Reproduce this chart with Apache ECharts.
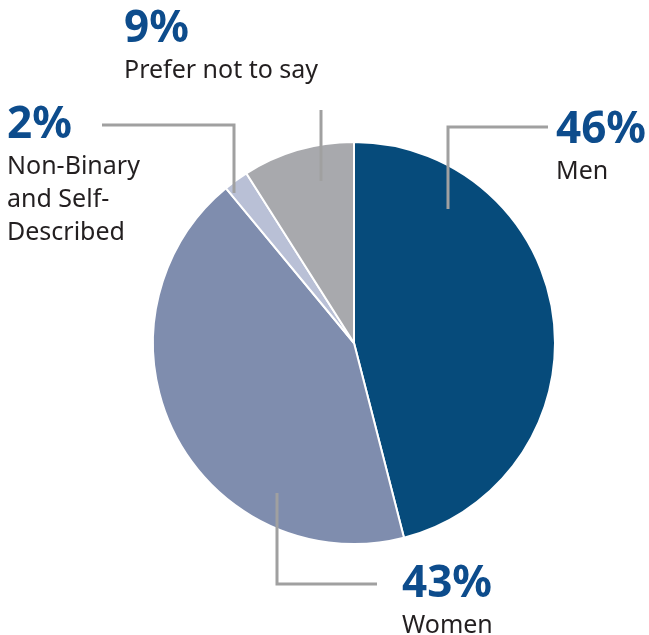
<!DOCTYPE html>
<html>
<head>
<meta charset="utf-8">
<script src="https://cdn.jsdelivr.net/npm/echarts@6/dist/echarts.min.js"></script>
<style>
  html, body { margin: 0; padding: 0; background: #fff; }
  #chart { width: 649px; height: 635px; }
</style>
</head>
<body>
<div id="chart"></div>
<script>
// slices, clockwise from 12 o'clock
const categories = ['Men', 'Women', 'Non-Binary\nand Self-\nDescribed', 'Prefer not to say']
const shares = [46, 43, 2, 9]
const colors = ['#064b7b', '#7f8dae', '#b9c0d6', '#a8a9ad']

// where each label sits and how its leader line runs (px)
const labelSpots = [
  { x: 556, y: 106, line: [[448, 209], [448, 127], [548, 127]] },
  { x: 402, y: 560, line: [[277, 493], [277, 584], [377, 584]] },
  { x: 7, y: 101, line: [[234, 193], [234, 125], [102, 125]] },
  { x: 124, y: 5, line: [[321, 181], [321, 110], [321, 110]] }
]

const pieBase = {
  type: 'pie',
  center: [354, 343],
  radius: 201,
  startAngle: 90,
  clockwise: true,
  silent: true
}

const myChart = echarts.init(document.getElementById('chart'))
const option = {
  animation: false,
  textStyle: { fontFamily: 'Noto Sans' },
  series: [
    // the slices
    Object.assign({}, pieBase, {
      z: 2,
      itemStyle: { borderColor: '#fff', borderWidth: 2 },
      label: { show: false },
      labelLine: { show: false },
      data: categories.map((name, i) => ({
        name: name,
        value: shares[i],
        itemStyle: { color: colors[i] }
      }))
    }),
    // same pie, invisible, on top: carries labels + leader lines over the slices
    Object.assign({}, pieBase, {
      z: 3,
      itemStyle: { color: 'rgba(0,0,0,0)', borderWidth: 0 },
      data: categories.map((name, i) => ({ name: name, value: shares[i] })),
      label: {
        show: true,
        position: 'outside',
        overflow: 'none',
        formatter: '{p|{c}%}\n{n|{b}}',
        rich: {
          p: { fontSize: 44, fontWeight: 'bold', color: '#0d4c8c', lineHeight: 49, fontFamily: 'Noto Sans' },
          n: { fontSize: 25, color: '#231f20', lineHeight: 33, fontFamily: 'Noto Sans' }
        }
      },
      labelLine: {
        show: true,
        lineStyle: { color: '#a0a0a0', width: 3 }
      },
      labelLayout: function (params) {
        const s = labelSpots[params.dataIndex]
        return {
          x: s.x,
          y: s.y,
          width: 260,
          align: 'left',
          verticalAlign: 'top',
          labelLinePoints: s.line
        }
      }
    })
  ]
}
myChart.setOption(option)
</script>
</body>
</html>
